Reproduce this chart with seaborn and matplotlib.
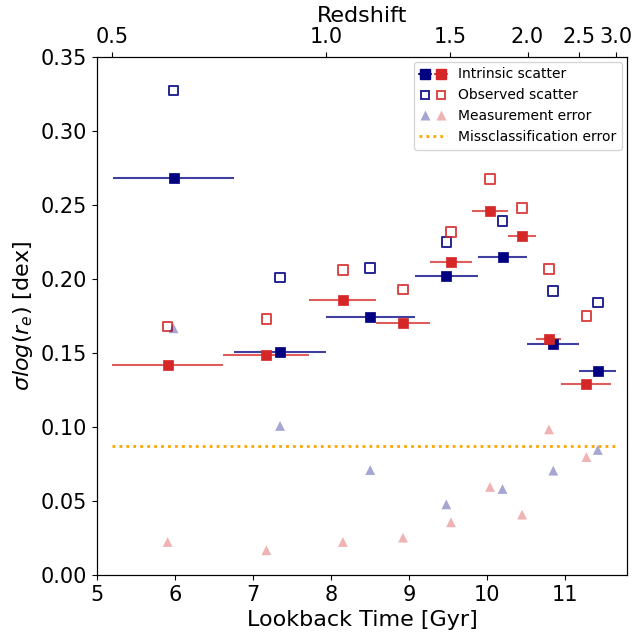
import numpy as np
import pandas as pd
import matplotlib
matplotlib.use("Agg")
import matplotlib.pyplot as plt
import seaborn as sns
from matplotlib.legend_handler import HandlerTuple
from matplotlib.lines import Line2D

# ---------------- data ----------------
# blue sample: bin edges in lookback time [Gyr]
blue_edges = [5.20, 6.76, 7.93, 9.07, 9.88, 10.51, 11.18, 11.65]
blue_intrinsic = [0.268, 0.151, 0.1745, 0.202, 0.215, 0.156, 0.138]
blue_observed = [0.3275, 0.201, 0.2076, 0.2252, 0.2392, 0.1921, 0.1840]
blue_measerr = [0.1667, 0.1007, 0.0709, 0.0477, 0.0581, 0.0705, 0.0845]

# red sample
red_edges = [5.19, 6.62, 7.72, 8.58, 9.26, 9.81, 10.26, 10.63, 10.95, 11.59]
red_intrinsic = [0.1421, 0.1486, 0.1858, 0.1703, 0.2115, 0.2459, 0.2293, 0.1592, 0.1293]
red_observed = [0.168, 0.173, 0.2061, 0.1928, 0.2316, 0.2674, 0.2480, 0.2066, 0.1752]
red_measerr = [0.0223, 0.0167, 0.0223, 0.0252, 0.0356, 0.0595, 0.0408, 0.0984, 0.0797]

misclass_error = 0.0869

redshift_ticks = [0.5, 1.0, 1.5, 2.0, 2.5, 3.0]
redshift_labels = ["0.5", "1.0", "1.5", "2.0", "2.5", "3.0"]

# ---------------- helpers ----------------
def lookback(z, H0=67.74, Om=0.3089):
    zz = np.linspace(0, z, 2001)
    f = 1.0 / ((1 + zz) * np.sqrt(Om * (1 + zz) ** 3 + (1 - Om)))
    return 977.8 / H0 * np.trapezoid(f, zz)

def mid_err(edges):
    e = np.asarray(edges)
    return (e[1:] + e[:-1]) / 2, (e[1:] - e[:-1]) / 2

bx, bxe = mid_err(blue_edges)
rx, rxe = mid_err(red_edges)

blue_df = pd.DataFrame({"t": bx, "intr": blue_intrinsic, "obs": blue_observed, "meas": blue_measerr})
red_df = pd.DataFrame({"t": rx, "intr": red_intrinsic, "obs": red_observed, "meas": red_measerr})

BLUE = "navy"
RED = "#d62728"

sns.set_style("ticks")
plt.rcParams["font.family"] = ["DejaVu Sans"]
for k in ("text.color", "axes.labelcolor", "xtick.color", "ytick.color", "axes.edgecolor"):
    plt.rcParams[k] = "black"

fig = plt.figure(figsize=(6.34, 6.35), dpi=100)
ax = fig.add_axes([0.153, 0.0945, 0.836, 0.8157])

# error bars (x only)
ax.errorbar(blue_df["t"], blue_df["intr"], xerr=bxe, fmt="none", ecolor=BLUE, elinewidth=1.5, alpha=0.75, zorder=2)
ax.errorbar(red_df["t"], red_df["intr"], xerr=rxe, fmt="none", ecolor=RED, elinewidth=1.5, alpha=0.75, zorder=2)

# intrinsic scatter (filled squares)
sns.scatterplot(data=blue_df, x="t", y="intr", marker="s", s=62, color=BLUE, edgecolor=BLUE, linewidth=0.5, ax=ax, zorder=4)
sns.scatterplot(data=red_df, x="t", y="intr", marker="s", s=62, color=RED, edgecolor=RED, linewidth=0.5, ax=ax, zorder=4)

# observed scatter (open squares)
sns.scatterplot(data=blue_df, x="t", y="obs", marker="s", s=48, facecolor="none", edgecolor=BLUE, linewidth=1.4, alpha=0.85, ax=ax, zorder=3)
sns.scatterplot(data=red_df, x="t", y="obs", marker="s", s=48, facecolor="none", edgecolor=RED, linewidth=1.4, alpha=0.85, ax=ax, zorder=3)

# measurement error (triangles)
sns.scatterplot(data=blue_df, x="t", y="meas", marker="^", s=50, color=BLUE, edgecolor="none", alpha=0.35, ax=ax, zorder=3)
sns.scatterplot(data=red_df, x="t", y="meas", marker="^", s=50, color=RED, edgecolor="none", alpha=0.35, ax=ax, zorder=3)

# misclassification error
ax.hlines(misclass_error, min(red_edges[0], blue_edges[0]), max(red_edges[-1], blue_edges[-1]),
          colors="orange", linestyles=(0, (1, 1.5)), linewidth=2, zorder=1)

ax.set_xlim(5.0, 11.79)
ax.set_ylim(0, 0.35)
ax.set_yticks(np.arange(0, 0.351, 0.05))
ax.set_yticklabels([f"{v:.2f}" for v in np.arange(0, 0.351, 0.05)])
ax.set_xlabel("Lookback Time [Gyr]", fontsize=16)
ax.set_ylabel(r"$\sigma log(r_e)$ [dex]", fontsize=16)
ax.tick_params(labelsize=15, color="black", labelcolor="black")

# top redshift axis
ax2 = ax.twiny()
ax2.set_xlim(ax.get_xlim())
ax2.set_xticks([lookback(z) for z in redshift_ticks])
ax2.set_xticklabels(redshift_labels)
ax2.tick_params(labelsize=15, color="black", labelcolor="black")
ax2.set_xlabel("Redshift", fontsize=16)

for a in (ax, ax2):
    for sp in a.spines.values():
        sp.set_visible(True)
        sp.set_color("black")

# legend
def eb_handle(c):
    return Line2D([0], [0], color=c, marker="s", markersize=7, linewidth=1.5, markerfacecolor=c, markeredgecolor=c)

h_intr = (eb_handle(BLUE), eb_handle(RED))
h_obs = (Line2D([0], [0], ls="none", marker="s", markersize=6, markerfacecolor="none", markeredgecolor=BLUE, markeredgewidth=1.4, alpha=0.85),
         Line2D([0], [0], ls="none", marker="s", markersize=6, markerfacecolor="none", markeredgecolor=RED, markeredgewidth=1.4, alpha=0.85))
h_meas = (Line2D([0], [0], ls="none", marker="^", markersize=6.5, color=BLUE, markeredgecolor="none", alpha=0.35),
          Line2D([0], [0], ls="none", marker="^", markersize=6.5, color=RED, markeredgecolor="none", alpha=0.35))
h_mis = Line2D([0], [0], color="orange", ls=(0, (1, 1.5)), lw=2)

ax.legend([h_intr, h_obs, h_meas, h_mis],
          ["Intrinsic scatter", "Observed scatter", "Measurement error", "Missclassification error"],
          handler_map={tuple: HandlerTuple(ndivide=None, pad=0.3)},
          loc="upper right", fontsize=10, handlelength=2.0, borderaxespad=0.35, framealpha=0.8)

fig.savefig("out.png", dpi=100)
